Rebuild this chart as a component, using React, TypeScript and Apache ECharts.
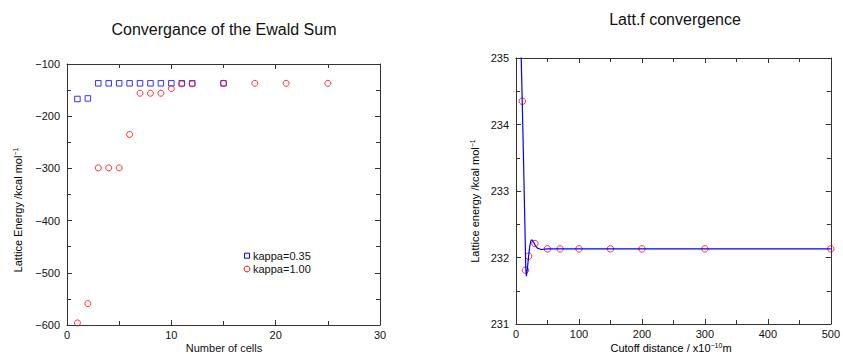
import React, { useEffect, useRef } from "react";
import * as echarts from "echarts";

// Left chart: convergence of the Ewald sum
const cellsBlue = [1, 2, 3, 4, 5, 6, 7, 8, 9, 10, 11, 12, 15];
const energyBlue = [-167, -166, -137, -137, -137, -137, -137, -137, -137, -137, -137, -137, -137];
const cellsRed = [1, 2, 3, 4, 5, 6, 7, 8, 9, 10, 11, 12, 15, 18, 21, 25];
const energyRed = [-596, -559, -299, -299, -299, -235, -156, -156, -156, -147, -138, -138, -137, -137, -137, -137];
const legendNames = ["kappa=0.35", "kappa=1.00"];

// Right chart: Latt.f convergence
const cutoffPts = [10, 15, 20, 30, 50, 70, 100, 150, 200, 300, 500];
const energyPts = [234.35, 231.81, 232.02, 232.21, 232.13, 232.13, 232.13, 232.13, 232.13, 232.13, 232.13];
const cutoffLine = [8, 10, 12, 14, 15.5, 16.5, 18, 20, 22, 24, 26, 28, 30, 34, 40, 50, 100, 200, 300, 500];
const energyLine = [235.1, 234.3, 233.45, 232.55, 231.85, 231.72, 231.82, 232.02, 232.18, 232.26, 232.26, 232.23, 232.19, 232.14, 232.12, 232.13, 232.13, 232.13, 232.13, 232.13];

const FONT = '"Liberation Sans", Arial, Helvetica, sans-serif';
const AX = "#333";
const BLUE = "#0000ff";
const RED = "#ff0000";

function zip(xs: number[], ys: number[]) {
  return xs.map((x, i) => [x, ys[i]]);
}

function xAx(grid: number, min: number, max: number, interval: number, top: boolean) {
  return {
    type: "value",
    gridIndex: grid,
    position: top ? "top" : "bottom",
    min,
    max,
    interval,
    axisLine: { show: true, onZero: false, lineStyle: { color: AX, width: 1 } },
    axisTick: { show: true, inside: true, length: 5, lineStyle: { color: AX } },
    minorTick: { show: true, splitNumber: 2, length: 4, lineStyle: { color: AX } },
    splitLine: { show: false },
    minorSplitLine: { show: false },
    axisLabel: {
      show: !top,
      color: "#111",
      fontSize: 11,
      fontFamily: FONT,
      margin: 4,
    },
  };
}

function yAx(grid: number, min: number, max: number, interval: number, right: boolean, fmt?: (v: number) => string) {
  return {
    type: "value",
    gridIndex: grid,
    position: right ? "right" : "left",
    min,
    max,
    interval,
    axisLine: { show: true, onZero: false, lineStyle: { color: AX, width: 1 } },
    axisTick: { show: true, inside: true, length: 5, lineStyle: { color: AX } },
    minorTick: { show: true, splitNumber: 2, length: 4, lineStyle: { color: AX } },
    splitLine: { show: false },
    minorSplitLine: { show: false },
    axisLabel: {
      show: !right,
      color: "#111",
      fontSize: 11,
      fontFamily: FONT,
      margin: 7,
      formatter: fmt,
    },
  };
}

export default function App() {
  const ref = useRef<HTMLDivElement>(null);
  useEffect(() => {
    document.body.style.margin = "0";
    if (!ref.current) return;
    const chart = echarts.init(ref.current, undefined, { renderer: "svg" });
    const rich = {
      a: { fontSize: 11, fontFamily: FONT, color: "#111" },
      s: { fontSize: 7, fontFamily: FONT, verticalAlign: "top", color: "#111", padding: [0, 0, 6, 0] },
    };
    const hollow = (c: string) => ({ color: "transparent", borderColor: c, borderWidth: 1 });
    const label = (text: string, x: number, y: number, size = 11) => ({
      type: "text",
      x,
      y,
      style: { text, fontSize: size, fontFamily: FONT, fill: "#111", textAlign: "left", textVerticalAlign: "middle" },
    });
    chart.setOption({
      animation: false,
      backgroundColor: "#fff",
      grid: [
        { left: 67, width: 313, top: 64, bottom: 29 },
        { left: 516, width: 319, top: 58, bottom: 30 },
      ],
      xAxis: [
        xAx(0, 0, 30, 10, false),
        xAx(0, 0, 30, 10, true),
        xAx(1, 0, 500, 100, false),
        xAx(1, 0, 500, 100, true),
      ],
      yAxis: [
        yAx(0, -600, -100, 100, false, (v: number) => (v < 0 ? "\u2212" + Math.abs(v) : String(v))),
        yAx(0, -600, -100, 100, true),
        yAx(1, 231, 235, 1, false),
        yAx(1, 231, 235, 1, true),
      ],
      series: [
        {
          name: legendNames[0],
          type: "scatter",
          xAxisIndex: 0,
          yAxisIndex: 0,
          symbol: "rect",
          symbolSize: 5.5,
          itemStyle: hollow(BLUE),
          data: zip(cellsBlue, energyBlue),
          clip: false,
        },
        {
          name: legendNames[1],
          type: "scatter",
          xAxisIndex: 0,
          yAxisIndex: 0,
          symbol: "circle",
          symbolSize: 6,
          itemStyle: hollow(RED),
          data: zip(cellsRed, energyRed),
          clip: false,
        },
        {
          name: "fit",
          type: "line",
          xAxisIndex: 2,
          yAxisIndex: 2,
          showSymbol: false,
          symbol: "none",
          clip: true,
          lineStyle: { color: BLUE, width: 1.2 },
          data: zip(cutoffLine, energyLine),
        },
        {
          name: "points",
          type: "scatter",
          xAxisIndex: 2,
          yAxisIndex: 2,
          symbol: "circle",
          symbolSize: 6.5,
          itemStyle: hollow(RED),
          data: zip(cutoffPts, energyPts),
          clip: false,
        },
      ],
      graphic: [
        // legend
        {
          type: "rect",
          shape: { x: 244.5, y: 253.2, width: 5, height: 5 },
          style: { fill: "none", stroke: BLUE, lineWidth: 1 },
        },
        label(legendNames[0], 253, 256),
        {
          type: "circle",
          shape: { cx: 247, cy: 269, r: 2.9 },
          style: { fill: "none", stroke: RED, lineWidth: 1 },
        },
        label(legendNames[1], 253, 269),
        {
          type: "text",
          x: 224,
          y: 29,
          style: {
            text: "Convergance of the Ewald Sum",
            fontSize: 16,
            fontFamily: FONT,
            fill: "#111",
            textAlign: "center",
            textVerticalAlign: "middle",
          },
        },
        {
          type: "text",
          x: 675,
          y: 19,
          style: {
            text: "Latt.f convergence",
            fontSize: 16,
            fontFamily: FONT,
            fill: "#111",
            textAlign: "center",
            textVerticalAlign: "middle",
          },
        },
        {
          type: "text",
          x: 224,
          y: 348,
          style: {
            text: "Number of cells",
            fontSize: 11,
            fontFamily: FONT,
            fill: "#111",
            textAlign: "center",
            textVerticalAlign: "middle",
          },
        },
        {
          type: "text",
          x: 671,
          y: 348,
          style: {
            text: "{a|Cutoff distance / x10}{s|\u221210}{a|m}",
            rich,
            textAlign: "center",
            textVerticalAlign: "middle",
          },
        },
        {
          type: "text",
          x: 18,
          y: 210,
          rotation: Math.PI / 2,
          style: {
            text: "{a|Lattice Energy /kcal mol}{s|\u22121}",
            rich,
            textAlign: "center",
            textVerticalAlign: "middle",
          },
        },
        {
          type: "text",
          x: 475,
          y: 201,
          rotation: Math.PI / 2,
          style: {
            text: "{a|Lattice energy /kcal mol}{s|\u22121}",
            rich,
            textAlign: "center",
            textVerticalAlign: "middle",
          },
        },
      ],
    });
    return () => chart.dispose();
  }, []);
  return <div ref={ref} style={{ width: 843, height: 354 }} />;
}
